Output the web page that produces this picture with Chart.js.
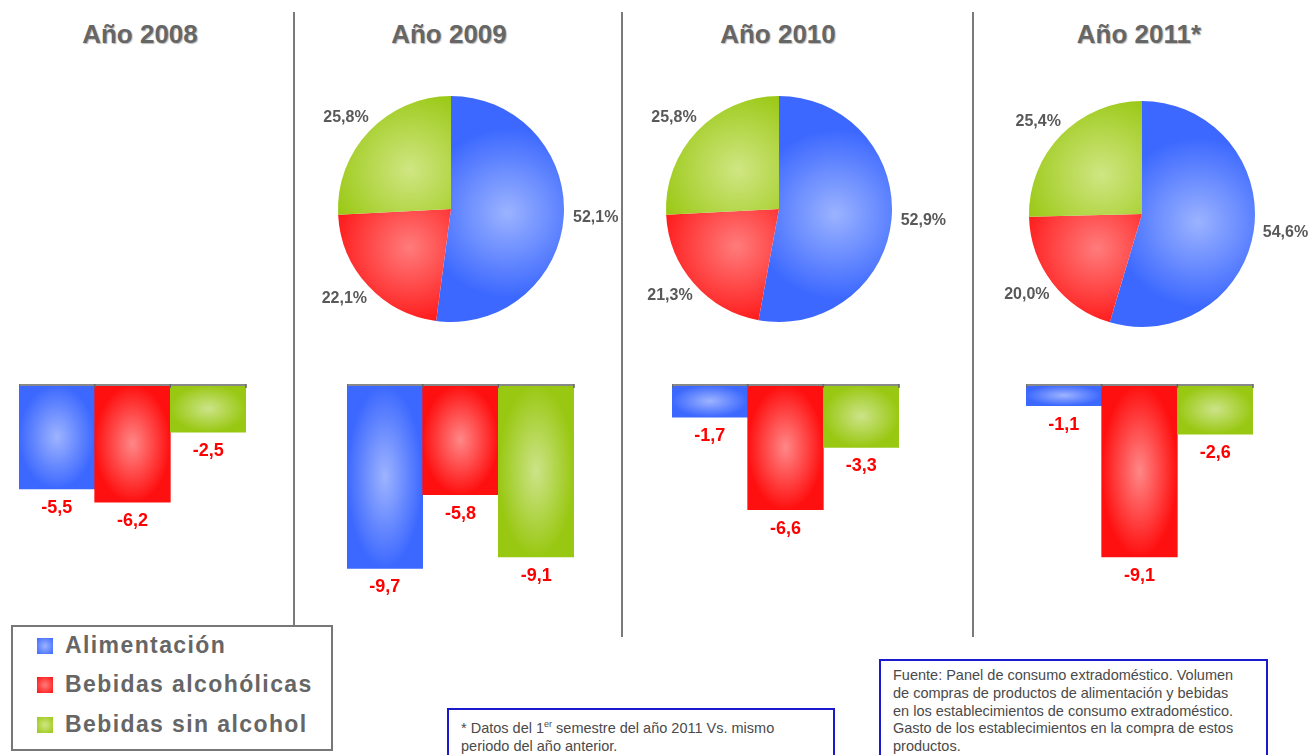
<!DOCTYPE html>
<html>
<head>
<meta charset="utf-8">
<script src="https://cdn.jsdelivr.net/npm/chart.js@4.4.1/dist/chart.umd.min.js"></script>
<style>
  html, body { margin: 0; padding: 0; background: #fff; overflow: hidden; }
  body { width: 1314px; height: 755px; position: relative; font-family: Arial, "Liberation Sans", sans-serif; }
  .title { position: absolute; top: 19px; width: 220px; margin-left: -110px; text-align: center;
           font-weight: bold; font-size: 26px; color: #666; text-shadow: 1px 1px 1px #bbb; }
  .sep { position: absolute; top: 12px; width: 2px; height: 625px; background: #7a7a7a; }
  .legend { position: absolute; left: 11px; top: 625px; width: 318px; height: 122px; border: 2px solid #777; background: #fff; }
  .legend div { position: absolute; left: 24px; font-weight: bold; font-size: 23px; color: #666; letter-spacing: 1.4px; }
  .legend span { display: inline-block; width: 16px; height: 16px; margin-right: 12px; vertical-align: -1px; }
  .note { position: absolute; border: 2px solid #1a1acc; background: #fff; font-size: 14.5px; color: #4a4a4a;
          line-height: 17.8px; padding: 6px 12px; box-sizing: border-box; white-space: nowrap; }
  canvas { position: absolute; }
</style>
</head>
<body>
<div class="sep" style="left:293px"></div>
<div class="sep" style="left:621px"></div>
<div class="sep" style="left:972px"></div>

<div id="titles"></div>

<div class="legend" id="legend"></div>

<div class="note" style="left:447px; top:708px; width:388px; height:60px;">* Datos del 1<sup style="font-size:9px">er</sup> semestre del año 2011 Vs. mismo<br>periodo del año anterior.</div>
<div class="note" style="left:879px; top:659px; width:389px; height:110px;">Fuente: Panel de consumo extradoméstico. Volumen<br>de compras de productos de alimentación y bebidas<br>en los establecimientos de consumo extradoméstico.<br>Gasto de los establecimientos en la compra de estos<br>productos.</div>

<script>
const categories = ['Alimentación', 'Bebidas alcohólicas', 'Bebidas sin alcohol'];
const years = ['Año 2008', 'Año 2009', 'Año 2010', 'Año 2011*'];

// variación (%) por año
const var2008 = [-5.5, -6.2, -2.5];
const var2009 = [-9.7, -5.8, -9.1];
const var2010 = [-1.7, -6.6, -3.3];
const var2011 = [-1.1, -9.1, -2.6];

// reparto (%) por año
const share2009 = [52.1, 22.1, 25.8];
const share2010 = [52.9, 21.3, 25.8];
const share2011 = [54.6, 20.0, 25.4];

const baseColors = ['#3c68ff', '#ff1010', '#99c812'];
const lightColors = ['#9bb3ff', '#ff7c7c', '#d0e683'];

const fmt = v => v.toFixed(1).replace('.', ',');

// titles + legend
const titleX = [140, 449, 778, 1139];
years.forEach((y, i) => {
    const d = document.createElement('div');
    d.className = 'title';
    d.style.left = titleX[i] + 'px';
    d.textContent = y;
    document.getElementById('titles').appendChild(d);
});
const legendTops = [5, 44, 84];
categories.forEach((c, i) => {
    const d = document.createElement('div');
    d.style.top = legendTops[i] + 'px';
    d.innerHTML = '<span style="background: radial-gradient(' + lightColors[i] + ', ' + baseColors[i] + ')"></span>' + c;
    document.getElementById('legend').appendChild(d);
});

function addCanvas(left, top, w, h) {
    const c = document.createElement('canvas');
    c.width = w; c.height = h;
    c.style.left = left + 'px'; c.style.top = top + 'px';
    c.style.width = w + 'px'; c.style.height = h + 'px';
    document.body.appendChild(c);
    return c;
}

// pillow shading on bars + value labels under them
const barDecor = {
    id: 'barDecor',
    afterDatasetsDraw(chart) {
        const ctx = chart.ctx;
        const meta = chart.getDatasetMeta(0);
        const zero = chart.scales.y.getPixelForValue(0);
        meta.data.forEach((bar, i) => {
            const w = bar.width;
            const top = Math.min(bar.y, bar.base);
            const h = Math.abs(bar.base - bar.y);
            ctx.save();
            ctx.translate(bar.x, top + h / 2);
            ctx.scale(w / 2, h / 2);
            const g = ctx.createRadialGradient(0, 0, 0, 0, 0, 1);
            g.addColorStop(0, 'rgba(255,255,255,0.5)');
            g.addColorStop(0.6, 'rgba(255,255,255,0.2)');
            g.addColorStop(1, 'rgba(255,255,255,0)');
            ctx.fillStyle = g;
            ctx.fillRect(-1, -1, 2, 2);
            ctx.restore();

            ctx.save();
            ctx.font = 'bold 18px Arial';
            ctx.fillStyle = '#ff0000';
            ctx.textAlign = 'center';
            ctx.textBaseline = 'middle';
            ctx.fillText(fmt(chart.data.datasets[0].data[i]), bar.x, bar.y + 19);
            ctx.restore();
        });
        // zero line with small ticks
        const area = chart.chartArea;
        ctx.save();
        ctx.strokeStyle = '#888';
        ctx.lineWidth = 2;
        ctx.beginPath();
        ctx.moveTo(area.left, zero);
        ctx.lineTo(area.right, zero);
        ctx.stroke();
        ctx.lineWidth = 1.5;
        ctx.strokeStyle = '#666';
        const n = meta.data.length;
        for (let k = 0; k <= n; k++) {
            const x = area.left + (area.right - area.left) * k / n;
            ctx.beginPath();
            ctx.moveTo(x, zero - 1);
            ctx.lineTo(x, zero + 3);
            ctx.stroke();
        }
        ctx.restore();
    }
};

function barChart(left, values) {
    const c = addCanvas(left, 383, 228, 225);
    new Chart(c, {
        type: 'bar',
        data: {
            labels: categories,
            datasets: [{ data: values, backgroundColor: baseColors, borderWidth: 0,
                         barPercentage: 1, categoryPercentage: 1 }]
        },
        options: {
            responsive: false,
            animation: false,
            layout: { padding: { top: 2, bottom: 34, left: 0, right: 1 } },
            plugins: { legend: { display: false }, tooltip: { enabled: false } },
            scales: {
                x: { display: false },
                y: { display: false, min: -10, max: 0 }
            }
        },
        plugins: [barDecor]
    });
}

barChart(19, var2008);
barChart(347, var2009);
barChart(672, var2010);
barChart(1026, var2011);

// pie slices with a soft highlight, labels outside
function sliceFill(context) {
    const chart = context.chart;
    const i = context.dataIndex;
    const area = chart.chartArea;
    if (!area) return baseColors[i];
    const data = chart.data.datasets[0].data;
    const total = data.reduce((a, b) => a + b, 0);
    let before = 0;
    for (let k = 0; k < i; k++) before += data[k];
    const mid = (before + data[i] / 2) / total * Math.PI * 2;
    const cx = (area.left + area.right) / 2, cy = (area.top + area.bottom) / 2;
    const r = Math.min(area.right - area.left, area.bottom - area.top) / 2;
    const gx = cx + Math.sin(mid) * r * 0.5, gy = cy - Math.cos(mid) * r * 0.5;
    const g = chart.ctx.createRadialGradient(gx, gy, 0, gx, gy, r * 0.75);
    g.addColorStop(0, lightColors[i]);
    g.addColorStop(1, baseColors[i]);
    return g;
}

const pieLabels = {
    id: 'pieLabels',
    afterDraw(chart) {
        const ctx = chart.ctx;
        const meta = chart.getDatasetMeta(0);
        ctx.save();
        ctx.font = 'bold 16px Arial';
        ctx.fillStyle = '#595959';
        ctx.textAlign = 'center';
        ctx.textBaseline = 'middle';
        meta.data.forEach((arc, i) => {
            const mid = (arc.startAngle + arc.endAngle) / 2;
            const d = arc.outerRadius + 32;
            ctx.fillText(fmt(chart.data.datasets[0].data[i]) + '%',
                arc.x + Math.cos(mid) * d, arc.y + Math.sin(mid) * d * 0.91);
        });
        ctx.restore();
    }
};

function pieChart(cx, cy, values) {
    const W = 380, H = 300, R = 113;
    const c = addCanvas(cx - W / 2, cy - H / 2, W, H);
    new Chart(c, {
        type: 'pie',
        data: {
            labels: categories,
            datasets: [{ data: values, backgroundColor: sliceFill, borderWidth: 0 }]
        },
        options: {
            responsive: false,
            animation: false,
            layout: { padding: { left: W / 2 - R, right: W / 2 - R, top: H / 2 - R, bottom: H / 2 - R } },
            plugins: { legend: { display: false }, tooltip: { enabled: false } }
        },
        plugins: [pieLabels]
    });
}

pieChart(451, 209, share2009);
pieChart(779, 209, share2010);
pieChart(1142, 214, share2011);
</script>
</body>
</html>
